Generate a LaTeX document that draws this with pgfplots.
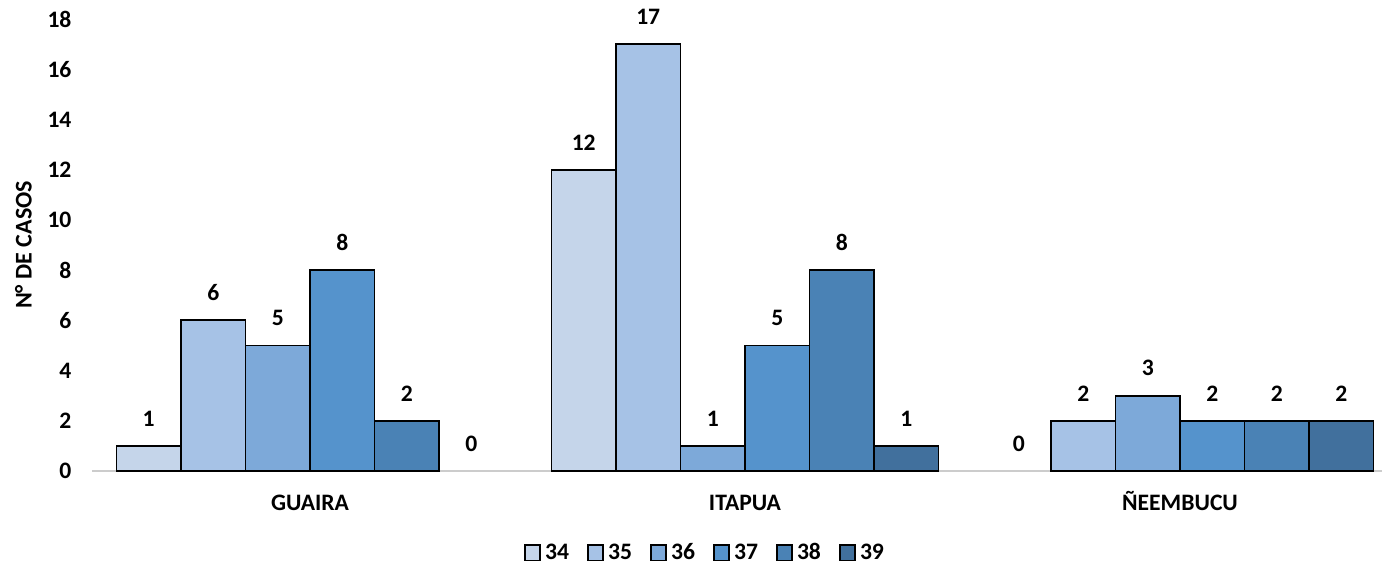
\documentclass[border=0pt]{standalone}
\usepackage{fontspec}
\setmainfont{Carlito}
\usepackage{pgfplots}
\pgfplotsset{compat=1.18}
\definecolor{c34}{HTML}{C5D5EA}
\definecolor{c35}{HTML}{A6C2E6}
\definecolor{c36}{HTML}{7DA9D9}
\definecolor{c37}{HTML}{5593CC}
\definecolor{c38}{HTML}{4A82B5}
\definecolor{c39}{HTML}{41709D}
\newcommand{\lf}{\fontsize{11.8pt}{13pt}\selectfont\bfseries}
\begin{document}
\begin{tikzpicture}
\begin{axis}[
  at={(0,0)}, anchor=south west,
  scale only axis,
  width=652.5pt, height=226pt,
  xmin=-0.5, xmax=2.5,
  ymin=0, ymax=18,
  ytick={0,2,...,18},
  xtick={0,1,2},
  xticklabels={GUAIRA,ITAPUA,ÑEEMBUCU},
  font=\lf,
  /pgf/number format/assume math mode=true,
  tick label style={font=\lf},
  yticklabel style={xshift=-7pt},
  xticklabel style={yshift=-8pt, text height=8pt, text depth=0pt},
  major tick length=0pt,
  axis x line*=bottom,
  axis y line*=left,
  y axis line style={draw=none},
  x axis line style={draw=black!20, line width=0.6pt, -},
  ylabel={N° DE CASOS},
  ylabel style={at={(axis description cs:-0.0529,0.5)}, anchor=center, font=\fontsize{12pt}{13pt}\selectfont\bfseries},
  ybar, bar width=0.1483,
  every axis plot/.append style={draw=black, line width=0.85pt},
  nodes near coords,
  every node near coord/.append style={font=\lf, yshift=6pt},
  legend style={at={(0.4701,-0.181)}, anchor=center, draw=none, legend columns=6,
     font=\lf,
     /tikz/every even column/.append style={column sep=7pt}},
  legend image code/.code={\draw[#1, line width=0.85pt] (0cm,-0.135cm) rectangle (0.27cm,0.135cm);},
  clip=false,
]
\addplot[fill=c34, bar shift=-0.37075] coordinates {(0,1) (1,12)};
\addplot[fill=c35, bar shift=-0.22245] coordinates {(0,6) (1,17) (2,2)};
\addplot[fill=c36, bar shift=-0.07415] coordinates {(0,5) (1,1) (2,3)};
\addplot[fill=c37, bar shift=0.07415] coordinates {(0,8) (1,5) (2,2)};
\addplot[fill=c38, bar shift=0.22245] coordinates {(0,2) (1,8) (2,2)};
\addplot[fill=c39, bar shift=0.37075] coordinates {(1,1) (2,2)};
\legend{34,35,36,37,38,39}
% zero values: labels only
\addplot[draw=none, fill=none, bar shift=-0.37075, forget plot] coordinates {(2,0)};
\addplot[draw=none, fill=none, bar shift=0.37075, forget plot] coordinates {(0,0)};
\end{axis}
\pgfresetboundingbox
\useasboundingbox (-46.25pt,-47.5pt) rectangle (644.75pt,235.5pt);
\end{tikzpicture}
\end{document}
